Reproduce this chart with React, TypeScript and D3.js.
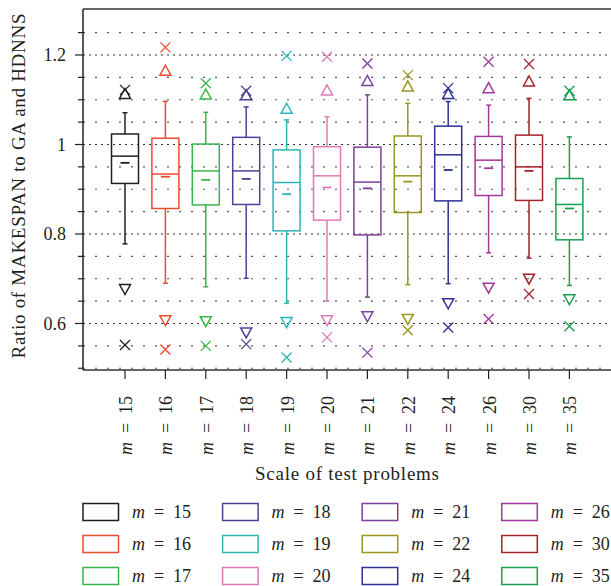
import React from "react";
import * as d3 from "d3";

const categories = ["15", "16", "17", "18", "19", "20", "21", "22", "24", "26", "30", "35"];
const colors = ["#231f20", "#ee4a2e", "#3ab54a", "#4f3f98", "#2bb5b5", "#e07ab5", "#7e3f98", "#9b9620", "#2e3192", "#a3379b", "#a3232a", "#1a9f4f"];

const maxValues = [1.122, 1.217, 1.137, 1.12, 1.198, 1.196, 1.181, 1.155, 1.126, 1.185, 1.18, 1.12];
const upperPct = [1.114, 1.166, 1.113, 1.111, 1.081, 1.122, 1.143, 1.131, 1.114, 1.127, 1.142, 1.111];
const whiskerHigh = [1.071, 1.0965, 1.072, 1.084, 1.055, 1.062, 1.111, 1.092, 1.096, 1.088, 1.103, 1.017];
const q3 = [1.0235, 1.014, 1.001, 1.016, 0.988, 0.995, 0.994, 1.019, 1.041, 1.018, 1.021, 0.924];
const medians = [0.974, 0.934, 0.941, 0.941, 0.915, 0.93, 0.916, 0.93, 0.977, 0.965, 0.95, 0.866];
const means = [0.959, 0.928, 0.921, 0.923, 0.889, 0.904, 0.902, 0.917, 0.943, 0.947, 0.941, 0.857];
const q1 = [0.913, 0.857, 0.865, 0.866, 0.807, 0.831, 0.798, 0.848, 0.874, 0.886, 0.875, 0.787];
const whiskerLow = [0.778, 0.69, 0.682, 0.701, 0.645, 0.65, 0.659, 0.687, 0.689, 0.758, 0.746, 0.685];
const lowerPct = [0.676, 0.606, 0.604, 0.579, 0.602, 0.606, 0.615, 0.609, 0.644, 0.679, 0.699, 0.653];
const minValues = [0.552, 0.542, 0.55, 0.554, 0.524, 0.569, 0.535, 0.585, 0.591, 0.61, 0.666, 0.594];

const majorTicks = [0.6, 0.8, 1.0, 1.2];
const tickLabels = ["0.6", "0.8", "1", "1.2"];
const minorTicks = [0.5, 0.55, 0.65, 0.7, 0.75, 0.85, 0.9, 0.95, 1.05, 1.1, 1.15, 1.25];

const FONT = "'Liberation Serif', 'Times New Roman', serif";

export default function App() {
  const left = 83, top = 9, bottom = 370, right = 615;
  const y = d3.scaleLinear().domain([0.5, 1.3]).range([368.25, 10.25]);
  const x = d3.scalePoint<string>().domain(categories).range([125, 569.4]);
  const bw = 27;

  const mLabel = (key: string, num: string, tx: number, ty: number, rotate: boolean) => (
    <g key={key} transform={`translate(${tx},${ty})${rotate ? " rotate(-90)" : ""}`} fontFamily={FONT} fontSize={18} fill="#231f20">
      <text x={0} y={0} fontStyle="italic">m</text>
      <text x={22} y={0}>=</text>
      <text x={41} y={0}>{num}</text>
    </g>
  );

  return (
    <svg width={611} height={586} style={{ position: "absolute", left: 0, top: 0 }}>
      <rect x={0} y={0} width={611} height={586} fill="#fff" />
      {/* gridlines */}
      {minorTicks.map((t) => (
        <line key={"mg" + t} x1={left} x2={right} y1={y(t)} y2={y(t)} stroke="#555" strokeWidth={1.2} strokeDasharray="2,10" />
      ))}
      {majorTicks.map((t) => (
        <line key={"Mg" + t} x1={left} x2={right} y1={y(t)} y2={y(t)} stroke="#333" strokeWidth={1.1} strokeDasharray="2,4" />
      ))}
      {/* frame */}
      <line x1={left} x2={right} y1={top} y2={top} stroke="#333" strokeWidth={1.5} />
      <line x1={left} x2={right} y1={bottom} y2={bottom} stroke="#333" strokeWidth={1.5} />
      <line x1={left} x2={left} y1={top} y2={bottom} stroke="#231f20" strokeWidth={1.5} />
      {/* y ticks */}
      {minorTicks.map((t) => (
        <line key={"mt" + t} x1={left - 5} x2={left} y1={y(t)} y2={y(t)} stroke="#231f20" strokeWidth={1.2} />
      ))}
      {majorTicks.map((t, i) => (
        <g key={"Mt" + t}>
          <line x1={left - 8} x2={left} y1={y(t)} y2={y(t)} stroke="#231f20" strokeWidth={1.2} />
          <text x={66} y={y(t) + 6} textAnchor="end" fontFamily={FONT} fontSize={18} fill="#231f20">{tickLabels[i]}</text>
        </g>
      ))}
      <text transform={`translate(25,186) rotate(-90)`} textAnchor="middle" fontFamily={FONT} fontSize={19} fill="#231f20" textLength={345} lengthAdjust="spacing">Ratio of MAKESPAN to GA and HDNNS</text>
      {/* x ticks */}
      {categories.map((c) => (
        <line key={"xt" + c} x1={x(c)!} x2={x(c)!} y1={bottom} y2={bottom + 9} stroke="#231f20" strokeWidth={1.2} />
      ))}
      {categories.map((c) => mLabel("xl" + c, c, x(c)! + 7, 455, true))}
      <text x={347} y={480} textAnchor="middle" fontFamily={FONT} fontSize={19} fill="#231f20" textLength={184} lengthAdjust="spacing">Scale of test problems</text>
      {/* boxes */}
      {categories.map((c, i) => {
        const cx = x(c)!;
        const col = colors[i];
        const xs = 5, th = 10, tw = 5.5;
        const tri = (v: number, up: boolean) => {
          const yc = y(v);
          return up
            ? `M${cx - tw},${yc + th / 2}L${cx + tw},${yc + th / 2}L${cx},${yc - th / 2}Z`
            : `M${cx - tw},${yc - th / 2}L${cx + tw},${yc - th / 2}L${cx},${yc + th / 2}Z`;
        };
        const cross = (v: number) => {
          const yc = y(v);
          return `M${cx - xs},${yc - xs}L${cx + xs},${yc + xs}M${cx - xs},${yc + xs}L${cx + xs},${yc - xs}`;
        };
        return (
          <g key={"b" + c} stroke={col} fill="none" strokeWidth={1.5}>
            <line x1={cx} x2={cx} y1={y(whiskerHigh[i])} y2={y(q3[i])} />
            <line x1={cx} x2={cx} y1={y(q1[i])} y2={y(whiskerLow[i])} />
            <line x1={cx - 2.5} x2={cx + 2.5} y1={y(whiskerHigh[i])} y2={y(whiskerHigh[i])} />
            <line x1={cx - 2.5} x2={cx + 2.5} y1={y(whiskerLow[i])} y2={y(whiskerLow[i])} />
            <rect x={cx - bw / 2} y={y(q3[i])} width={bw} height={y(q1[i]) - y(q3[i])} />
            <line x1={cx - bw / 2} x2={cx + bw / 2} y1={y(medians[i])} y2={y(medians[i])} />
            <line x1={cx - 4.5} x2={cx + 4.5} y1={y(means[i])} y2={y(means[i])} strokeWidth={1.8} />
            <path d={tri(upperPct[i], true)} />
            <path d={tri(lowerPct[i], false)} />
            <path d={cross(maxValues[i])} strokeWidth={1.3} />
            <path d={cross(minValues[i])} strokeWidth={1.3} />
          </g>
        );
      })}
      {/* legend */}
      {categories.map((c, i) => {
        const colIdx = Math.floor(i / 3);
        const rowIdx = i % 3;
        const lx = 83 + colIdx * 139.6;
        const ly = 512 + rowIdx * 32;
        return (
          <g key={"lg" + c}>
            <rect x={lx} y={ly - 8.5} width={35.5} height={17} fill="none" stroke={colors[i]} strokeWidth={1.5} />
            {mLabel("lt" + c, c, lx + 49, ly + 6, false)}
          </g>
        );
      })}
    </svg>
  );
}
